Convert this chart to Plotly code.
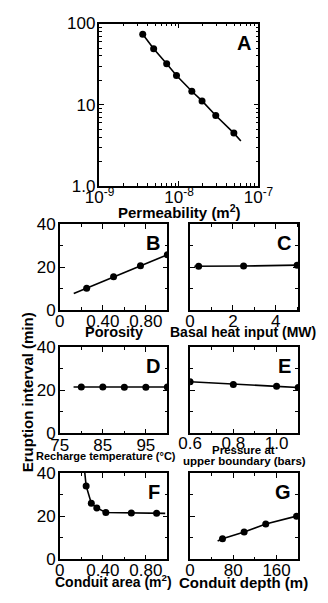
import plotly.graph_objects as go

# ---------------- data ----------------
# A: permeability vs eruption interval (log-log)
a_x = [3.5e-9, 4.8e-9, 7.0e-9, 9.3e-9, 1.45e-8, 1.95e-8, 2.9e-8, 4.9e-8]
a_y = [74, 49, 32, 23, 14.7, 11.2, 7.4, 4.5]
a_ext_x = [6.0e-8]
a_ext_y = [3.6]

# B: porosity
b_x = [0.25, 0.50, 0.75, 1.00]
b_y = [10.2, 15.5, 20.6, 25.7]
b_ext_x = [0.13]
b_ext_y = [7.7]

# C: basal heat input (MW)
c_x = [0.4, 2.5, 5.0]
c_y = [20.4, 20.5, 20.9]
c_ext_x = [0.2]
c_ext_y = [20.4]

# D: recharge temperature (deg C)
d_x = [80, 85, 90, 95, 100]
d_y = [21.5, 21.5, 21.4, 21.4, 21.5]
d_ext_x = [78.2]
d_ext_y = [21.5]

# E: pressure at upper boundary (bars)
e_x = [0.6, 0.8, 1.0, 1.1]
e_y = [23.9, 22.7, 21.8, 21.3]

# F: conduit area (m2)
f_x = [0.245, 0.293, 0.344, 0.428, 0.665, 0.90]
f_y = [34.0, 26.0, 23.8, 21.7, 21.5, 21.3]
f_ext_start_x = [0.22]
f_ext_start_y = [46.0]
f_ext_end_x = [0.98]
f_ext_end_y = [21.3]

# G: conduit depth (m)
g_x = [60, 100, 140, 197]
g_y = [9.6, 12.7, 16.4, 20.0]
g_ext_x = [51]
g_ext_y = [8.5]

# ---------------- style ----------------
W, H = 328, 603
TICK_FONT = dict(family="Liberation Sans, Arial, sans-serif", size=17, color="black")
TITLE_FAMILY = "Liberation Sans, Arial, sans-serif"
LINE = dict(color="black", width=1.6)
MARK = dict(color="black", size=7)


def px_x(p):
    return p / W


def px_y(p):
    return 1 - p / H


fig = go.Figure()


def add_panel(idx, xs, ys, line_x, line_y):
    sx = "" if idx == 1 else str(idx)
    fig.add_trace(go.Scatter(x=line_x, y=line_y, mode="lines", line=LINE,
                             xaxis="x" + sx, yaxis="y" + sx, hoverinfo="skip"))
    fig.add_trace(go.Scatter(x=xs, y=ys, mode="markers", marker=MARK,
                             xaxis="x" + sx, yaxis="y" + sx))


add_panel(1, a_x, a_y, a_x + a_ext_x, a_y + a_ext_y)
add_panel(2, b_x, b_y, b_ext_x + b_x, b_ext_y + b_y)
add_panel(3, c_x, c_y, c_ext_x + c_x, c_ext_y + c_y)
add_panel(4, d_x, d_y, d_ext_x + d_x, d_ext_y + d_y)
add_panel(5, e_x, e_y, e_x, e_y)
add_panel(6, f_x, f_y, f_ext_start_x + f_x + f_ext_end_x, f_ext_start_y + f_y + f_ext_end_y)
add_panel(7, g_x, g_y, g_ext_x + g_x, g_ext_y + g_y)

common = dict(showline=True, linecolor="black", linewidth=1.5, mirror="ticks",
              ticks="inside", ticklen=5, tickwidth=1.2, tickcolor="black",
              showgrid=False, zeroline=False, tickfont=TICK_FONT, fixedrange=True)
minor = dict(ticks="inside", ticklen=3, tickwidth=1.1, tickcolor="black", showgrid=False)

# panel pixel boxes
LX0, LX1 = 49.3, 167.7
RX0, RX1 = 192.7, 311.7
A_BOX = (93, 268, 15, 183)
rows = {"B": (222, 311), "D": (349, 438.3), "F": (479, 568.3)}

layout = dict(width=W, height=H, margin=dict(l=0, r=0, t=0, b=0),
              paper_bgcolor="white", plot_bgcolor="white", showlegend=False,
              hovermode=False)

# A (log-log)
a_minor_x = [m * 10.0 ** e for e in (-9, -8) for m in range(2, 10)]
a_minor_y = [m * 10.0 ** e for e in (0, 1) for m in range(2, 10)]
layout["xaxis"] = dict(common, type="log", range=[-9, -7], domain=[px_x(A_BOX[0]), px_x(A_BOX[1])],
                       anchor="y", tickmode="array", tickvals=[1e-9, 1e-8, 1e-7],
                       ticktext=["10<sup>-9</sup>", "10<sup>-8</sup>", "10<sup>-7</sup>"],
                       ticklabelstandoff=-5,
                       minor=dict(minor, tickmode="array", tickvals=a_minor_x))
layout["yaxis"] = dict(common, type="log", range=[0, 2], domain=[px_y(A_BOX[3]), px_y(A_BOX[2])],
                       anchor="x", tickmode="array", tickvals=[1, 10, 100],
                       ticktext=["1.0", "10", "100"], ticklabelstandoff=-1,
                       minor=dict(minor, tickmode="array", tickvals=a_minor_y))

xspecs = {
    2: dict(range=[0, 1.0], tickvals=[0, 0.4, 0.8], ticktext=["0", "0.40", "0.80"], mdt=0.2, m0=0, so=-5),
    3: dict(range=[0, 5.05], tickvals=[0, 2, 4], ticktext=["0", "2", "4"], mdt=1, m0=0, so=-5),
    4: dict(range=[75, 100], tickvals=[75, 85, 95], ticktext=["75", "85", "95"], mdt=5, m0=75, so=-5),
    5: dict(range=[0.6, 1.1], tickvals=[0.6, 0.8, 1.0], ticktext=["0.6", "0.8", "1.0"], mdt=0.1, m0=0.6, so=-7),
    6: dict(range=[0, 1.0], tickvals=[0, 0.4, 0.8], ticktext=["0", "0.40", "0.80"], mdt=0.2, m0=0, so=-6),
    7: dict(range=[0, 200], tickvals=[0, 80, 160], ticktext=["0", "80", "160"], mdt=40, m0=0, so=-6),
}
row_of = {2: "B", 3: "B", 4: "D", 5: "D", 6: "F", 7: "F"}
boxes = {1: A_BOX}
for i, s in xspecs.items():
    top, bot = rows[row_of[i]]
    left = i in (2, 4, 6)
    x0, x1 = (LX0, LX1) if left else (RX0, RX1)
    boxes[i] = (x0, x1, top, bot)
    layout[f"xaxis{i}"] = dict(common, range=s["range"], domain=[px_x(x0), px_x(x1)],
                               anchor=f"y{i}", tickmode="array", tickvals=s["tickvals"],
                               ticktext=s["ticktext"], ticklabelstandoff=s["so"],
                               minor=dict(minor, tickmode="linear", tick0=s["m0"], dtick=s["mdt"]))
    ya = dict(common, range=[0, 40], domain=[px_y(bot), px_y(top)],
              anchor=f"x{i}", tickmode="array", tickvals=[0, 20, 40],
              minor=dict(minor, tickmode="linear", tick0=0, dtick=10))
    if left:
        ya.update(ticktext=["0", "20", "40"], ticklabelstandoff=-1)
    else:
        ya.update(showticklabels=False)
    layout[f"yaxis{i}"] = ya

fig.update_layout(**layout)

# panel letters
letters = {1: "A", 2: "B", 3: "C", 4: "D", 5: "E", 6: "F", 7: "G"}
for i, L in letters.items():
    x0, x1, top, bot = boxes[i]
    fig.add_annotation(text=L, xref="paper", yref="paper",
                       x=px_x(x1 - 6), y=px_y(top + 20), xanchor="right", yanchor="middle",
                       showarrow=False,
                       font=dict(family="Liberation Sans, Arial", size=20, color="black", weight="bold"))


def title(text, x, y, size=14.5, angle=0):
    fig.add_annotation(text=text, xref="paper", yref="paper", x=px_x(x), y=px_y(y),
                       xanchor="center", yanchor="middle", showarrow=False, textangle=angle,
                       font=dict(family=TITLE_FAMILY, size=size, color="black", weight="bold"))


title("Permeability (m<sup>2</sup>)", 181, 209, size=15)
title("Porosity", 109, 334)
title("Basal heat input (MW)", 251, 334, size=14)
title("Recharge temperature (°C)", 100, 462, size=11)
title("Pressure at", 252, 455, size=11.5)
title("upper boundary (bars)", 253, 467, size=11.5)
title("Conduit area (m<sup>2</sup>)", 108, 591, size=14)
title("Conduit depth (m)", 252, 592, size=15)
title("Eruption interval (min)", 14, 396, size=15, angle=-90)

# remove the browser's default page margin so the figure sits at the page origin
fig.write_html("out.html", config={"displayModeBar": False},
               post_script="document.body.style.margin='0px';")
